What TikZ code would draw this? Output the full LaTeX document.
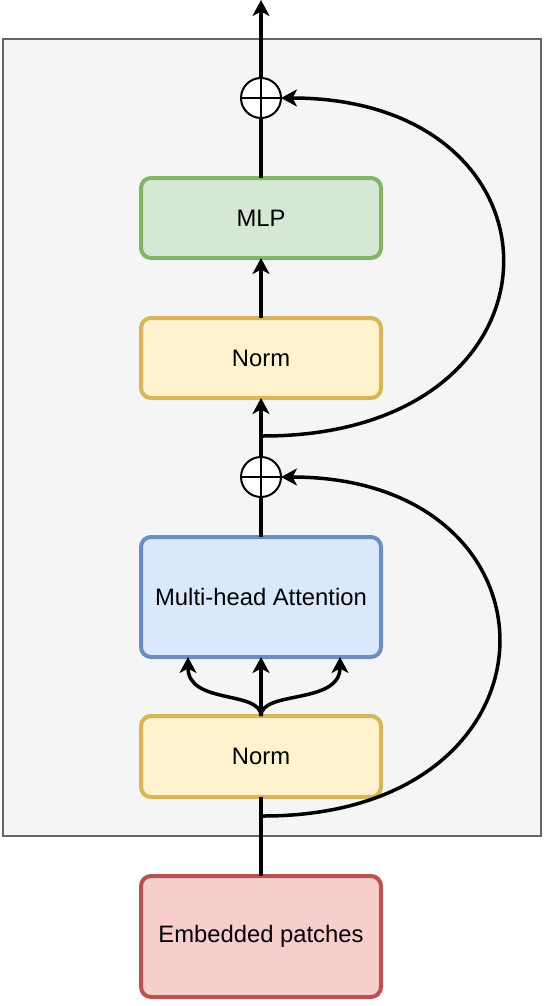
\documentclass[tikz,border=0pt]{standalone}
\usepackage{fontspec}
\setmainfont{Liberation Sans}
\usetikzlibrary{arrows.meta}
\definecolor{contfill}{HTML}{F5F5F5}
\definecolor{contline}{HTML}{666666}
\definecolor{gfill}{HTML}{D5E8D4}
\definecolor{gline}{HTML}{82B366}
\definecolor{yfill}{HTML}{FFF2CC}
\definecolor{yline}{HTML}{D6B656}
\definecolor{bfill}{HTML}{DAE8FC}
\definecolor{bline}{HTML}{6C8EBF}
\definecolor{rfill}{HTML}{F8CECC}
\definecolor{rline}{HTML}{B85450}
\begin{document}
\begin{tikzpicture}[x=1pt,y=-1pt,
  blk/.style={draw, line width=4pt, rounded corners=10pt, minimum width=240pt, minimum height=80pt, inner sep=0pt, outer sep=0pt, font=\fontsize{23.8}{28}\selectfont, anchor=north west},
  plus/.style={draw, circle, fill=white, line width=2pt, minimum size=40pt, inner sep=0pt, outer sep=0pt},
  conn/.style={line width=3.5pt},
  arr/.style={line width=3.5pt, -{Stealth[length=16pt,width=17pt,inset=4.5pt]}}
]
\useasboundingbox (0,0) rectangle (545,1006);
\node[draw=contline, fill=contfill, line width=2pt, minimum width=538pt, minimum height=797pt, anchor=north west, inner sep=0pt, outer sep=0pt] (cont) at (3,39) {};

\node[blk, fill=gfill, draw=gline] (mlp) at (141,178) {MLP};
\node[blk, fill=yfill, draw=yline] (norm2) at (141,318) {Norm};
\node[blk, fill=bfill, draw=bline, minimum height=120pt] (mha) at (141,537) {Multi-head Attention};
\node[blk, fill=yfill, draw=yline, minimum height=81pt] (norm1) at (141,716) {Norm};
\node[blk, fill=rfill, draw=rline, minimum height=121pt] (emb) at (141,876) {Embedded patches};

\node[plus] (p2) at (261,98) {};
\node[plus] (p1) at (261,477) {};
\draw[line width=2pt] (p2.north) -- (p2.south) (p2.west) -- (p2.east);
\draw[line width=2pt] (p1.north) -- (p1.south) (p1.west) -- (p1.east);

\coordinate (out) at (261,0);
\coordinate (s1) at (261,816);
\coordinate (s2) at (261,436);
\coordinate (a1) at (188,657);
\coordinate (a3) at (340,657);

% main line
\draw[conn] (emb.north) -- (norm1.south);
\draw[arr] (norm1.north) -- (mha.south);
\draw[arr] (norm1.north) .. controls (261,690) and (188,705) .. (a1);
\draw[arr] (norm1.north) .. controls (261,690) and (340,705) .. (a3);
\draw[conn] (mha.north) -- (p1.south);
\draw[arr] (p1.north) -- (norm2.south);
\draw[arr] (norm2.north) -- (mlp.south);
\draw[conn] (mlp.north) -- (p2.south);
\draw[arr] (p2.north) -- (out);

% residuals
\draw[arr] (s1) -- (263,816) .. controls (574,816) and (574,477) .. (p1.east);
\draw[arr] (s2) -- (263,436) .. controls (579,436) and (579,98) .. (p2.east);
\end{tikzpicture}
\end{document}
